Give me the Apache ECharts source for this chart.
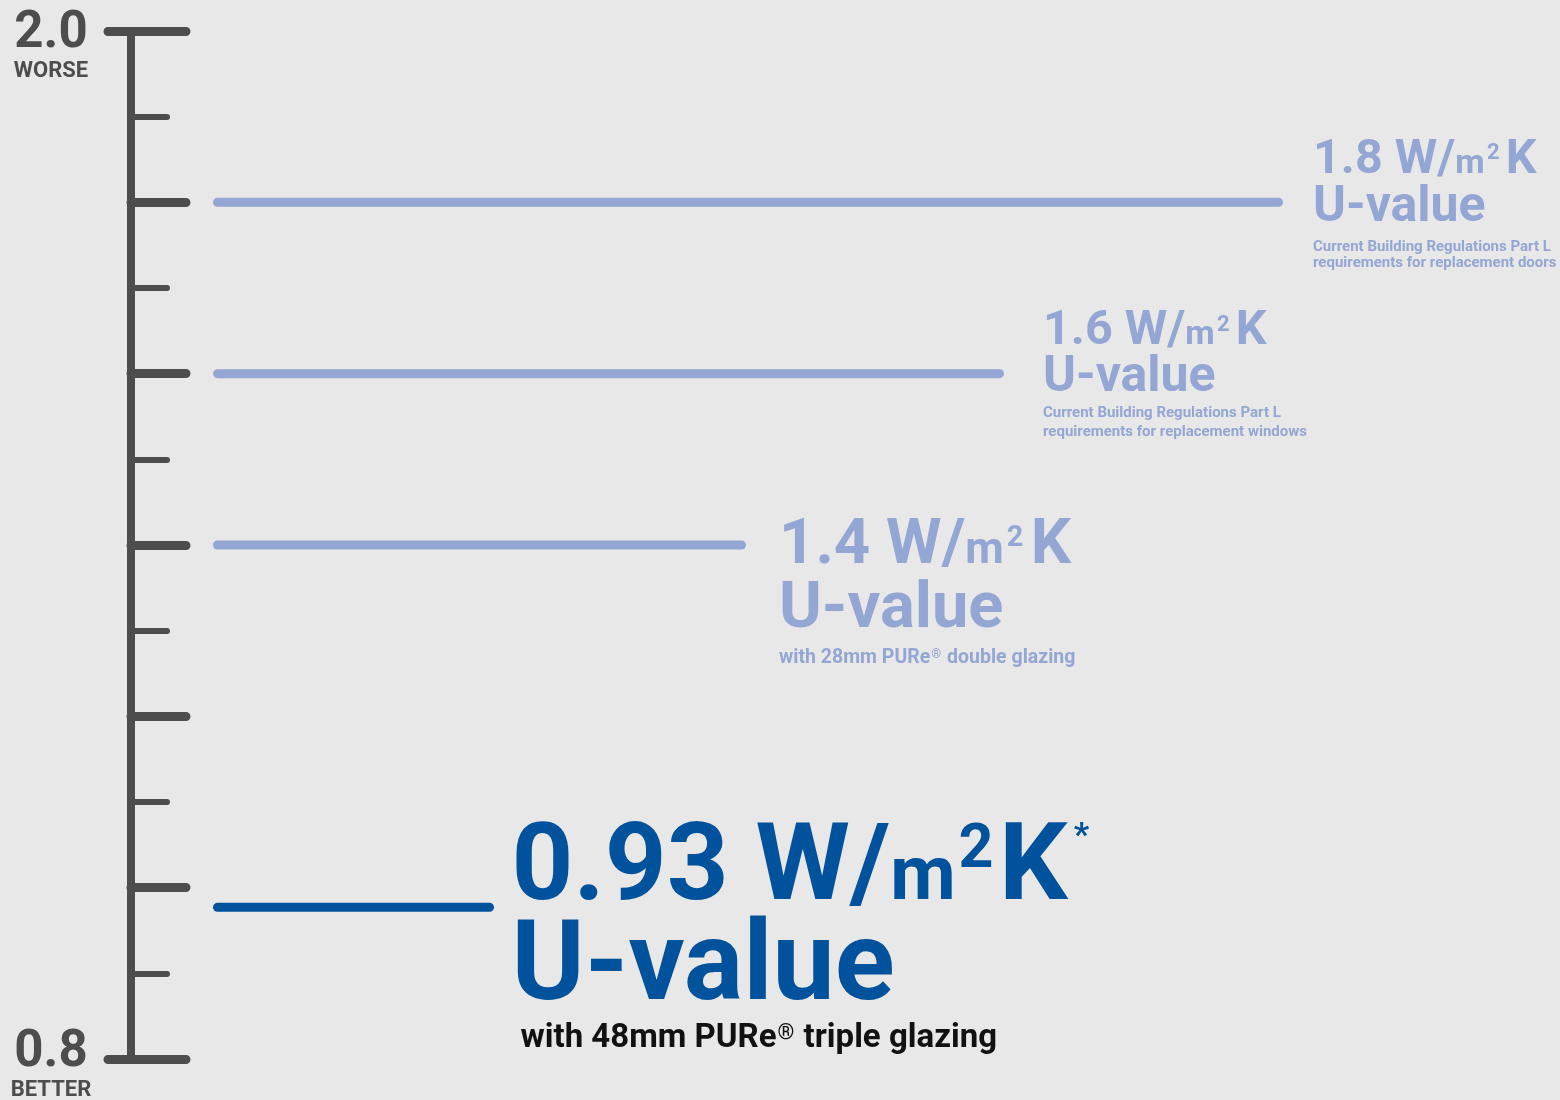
<!DOCTYPE html>
<html><head><meta charset="utf-8">
<script src="https://cdn.jsdelivr.net/npm/echarts@6/dist/echarts.min.js"></script>
<style>html,body{margin:0;padding:0;background:#e7e8e7;} #c{width:1560px;height:1100px;}</style>
</head><body><div id="c"></div>
<script>
// ---- data ----
const scaleEnds = [0.8, 2.0];
const scaleEndCaptions = ['BETTER', 'WORSE'];
const uValues = [1.8, 1.6, 1.4, 0.93];
// where each marker sits on the scale (the 0.93 marker is drawn a little above its true level in the original)
const markerLevels = [1.8, 1.6, 1.4, 0.977];
const lineStart = 86.5;
const lineEnds = [1147.5, 868.5, 610.5, 358.5];
const valueCaption = 'U-value';
const notes = [
  ['Current Building Regulations Part L', 'requirements for replacement doors'],
  ['Current Building Regulations Part L', 'requirements for replacement windows'],
  ['with 28mm PURe® double glazing'],
  ['with 48mm PURe® triple glazing']
];
const footnoteMarks = ['', '', '', '*'];

// ---- styling ----
const FONT = 'Roboto';
const LIGHT = '#94a6d4', DARK = '#00529c', AXIS = '#4d4d4d';
const layouts = [
  {F1:48.5, F2:50, a:33.4, b:61.7, c:16, fd:15, dx:34.5, dy:-58.5, sup:22, supPB:13.1, supL:2.5, supR:6, color:LIGHT, dcolor:LIGHT, dpad:0},
  {F1:48.5, F2:50, a:43, b:50.5, c:18.8, fd:15, dx:43.5, dy:-63, sup:22, supPB:13.1, supL:2.5, supR:6, color:LIGHT, dcolor:LIGHT, dpad:0},
  {F1:63.5, F2:65, a:54.2, b:74.4, c:20, fd:19.5, dx:37.5, dy:-25.2, sup:28.8, supPB:16.7, supL:3, supR:7.5, color:LIGHT, dcolor:LIGHT, dpad:0},
  {F1:108, F2:111, a:94.4, b:105.2, c:30, fd:33, dx:22, dy:-82.9, sup:61, supPB:40.8, supL:3, supR:5.5, color:DARK, dcolor:'#111111', dpad:9, star:34, starPB:67.8, starL:6}
];

function base(size, color, lh, pad) {
  return {fontFamily: FONT, fontWeight: 'bold', fontSize: size, color: color,
          lineHeight: lh, verticalAlign: 'middle', padding: pad || [0,0,0,0]};
}
function richFor(L) {
  return {
    a: base(L.F1, L.color, L.a),
    m: base(0.7 * L.F1, L.color, 1, [0.156 * L.F1, 0, 0, 0]),
    s: base(L.sup, L.color, 1, [0, L.supR, L.supPB, L.supL]),
    t: base(L.star || 10, L.color, 1, [0, 0, L.starPB || 0, L.starL || 0]),
    u: base(L.F2, L.color, L.b),
    dl: base(L.fd, L.dcolor, L.c, [0, 0, 0, L.dpad]),
    d: base(L.fd, L.dcolor, L.c),
    r: base(0.65 * L.fd, L.dcolor, 1, [0, 1, 0.34 * L.fd, 1])
  };
}
function noteLine(txt) {
  const parts = txt.split('®');
  let out = '{dl|' + parts[0] + '}';
  for (let i = 1; i < parts.length; i++) out += '{r|®}' + (parts[i] ? '{d|' + parts[i] + '}' : '');
  return out;
}
function labelText(i) {
  let s = '{a|' + String(uValues[i]) + ' W/}{m|m}{s|2}{a|K}';
  if (footnoteMarks[i]) s += '{t|' + footnoteMarks[i] + '}';
  s += '\n{u|' + valueCaption + '}';
  notes[i].forEach(n => { s += '\n' + noteLine(n); });
  return s;
}

const series = uValues.map((v, i) => {
  const L = layouts[i];
  return {
    type: 'line', silent: true, clip: false,
    symbol: 'circle', symbolSize: 2, showSymbol: true,
    itemStyle: {color: 'rgba(0,0,0,0)'},
    lineStyle: {width: 9, color: L.color, cap: 'round'},
    label: {show: false},
    data: [
      [lineStart, markerLevels[i]],
      {value: [lineEnds[i], markerLevels[i]],
       label: {show: true, position: [L.dx + 1, L.dy + 1], formatter: labelText(i), rich: richFor(L)}}
    ]
  };
});

const chart = echarts.init(document.getElementById('c'), null, {renderer: 'canvas'});
chart.setOption({
  animation: false,
  backgroundColor: '#e7e8e7',
  grid: {left: 131, right: 0, top: 31, bottom: 41, outerBoundsMode: 'none', containLabel: false},
  xAxis: {type: 'value', min: 0, max: 1429, show: false},
  yAxis: [
    {
      type: 'value', min: scaleEnds[0], max: scaleEnds[1], interval: 0.2, position: 'left',
      axisLine: {show: true, onZero: false, lineStyle: {color: AXIS, width: 8}},
      axisTick: {show: true, inside: true, length: 55, lineStyle: {color: AXIS, width: 9, cap: 'round'}},
      minorTick: {show: true, splitNumber: 2, length: 36, lineStyle: {color: AXIS, width: 6, cap: 'round'}},
      axisLabel: {show: false}, splitLine: {show: false}, minorSplitLine: {show: false}
    },
    {
      type: 'value', min: scaleEnds[0], max: scaleEnds[1], interval: 1.2, position: 'left', offset: 0,
      axisLine: {show: false},
      axisTick: {show: true, inside: false, length: 23, customValues: scaleEnds,
                 lineStyle: {color: AXIS, width: 9, cap: 'round'}},
      splitLine: {show: false},
      axisLabel: {
        show: true, customValues: scaleEnds, align: 'center', margin: 80,
        formatter: function (v) {
          const top = Math.abs(v - scaleEnds[1]) < 1e-6;
          const idx = top ? 1 : 0;
          const txt = scaleEnds[idx].toFixed(1);
          return top ? '{v2|' + txt + '}\n{c2|' + scaleEndCaptions[idx] + '}'
                     : '{v8|' + txt + '}\n{c8|' + scaleEndCaptions[idx] + '}';
        },
        rich: {
          v2: base(51, AXIS, 80.2, [9.7, 0, 0, 0]), c2: base(22, AXIS, 4),
          v8: base(51, AXIS, 63.2), c8: base(22, AXIS, 12.3)
        }
      }
    }
  ],
  series: series
});
</script></body></html>
